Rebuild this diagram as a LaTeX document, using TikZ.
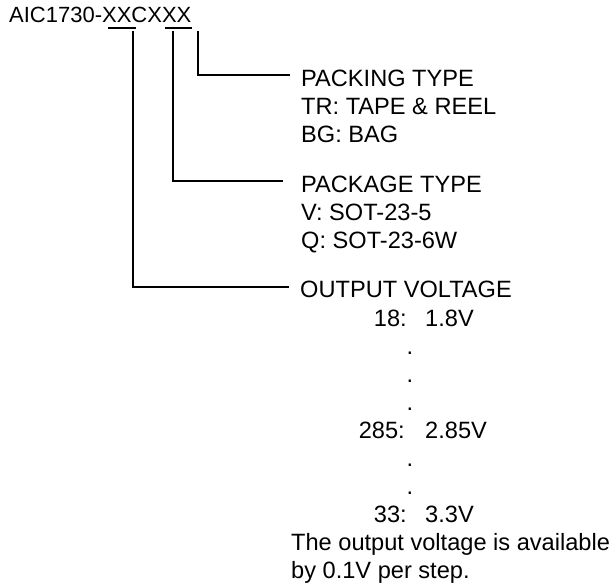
\documentclass[tikz,border=0pt]{standalone}
\usepackage{fontspec}
\setmainfont{Liberation Sans}
\begin{document}
\begin{tikzpicture}[x=1pt,y=-1pt,
  txt/.style={inner sep=0pt, anchor=base west, font=\fontsize{23.6}{28}\selectfont},
  lbl/.style={inner sep=0pt, anchor=base east, font=\fontsize{23.6}{28}\selectfont},
  dotn/.style={inner sep=0pt, anchor=base, font=\fontsize{23.6}{28}\selectfont},
  wire/.style={line width=1.2pt, line cap=rect},
  uline/.style={line width=2pt}]
\useasboundingbox (0,0) rectangle (616,588);
% title
\node[txt, font=\fontsize{22}{26}\selectfont] (title) at (9,23) {AIC1730-XXCXXX};
\coordinate (u1a) at (108,28.5);
\coordinate (u1b) at (136,28.5);
\coordinate (u2a) at (165,28.5);
\coordinate (u2b) at (192,28.5);
\draw[uline] (u1a) -- (u1b);
\draw[uline] (u2a) -- (u2b);
% text blocks
\node[txt] (pk1) at (301,87) {PACKING TYPE};
\node[txt] (pk2) at (301,115) {TR: TAPE \& REEL};
\node[txt] (pk3) at (301,143) {BG: BAG};
\node[txt] (pa1) at (301,193) {PACKAGE TYPE};
\node[txt] (pa2) at (301,221) {V: SOT-23-5};
\node[txt] (pa3) at (301,249) {Q: SOT-23-6W};
\node[txt] (ov1) at (300,298) {OUTPUT VOLTAGE};
\node[lbl] (k18) at (407,326) {18:};
\node[txt] (v18) at (425,326) {1.8V};
\node[dotn] (d1) at (410,354) {.};
\node[dotn] (d2) at (410,382) {.};
\node[dotn] (d3) at (410,410) {.};
\node[lbl] (k285) at (405,438) {285:};
\node[txt] (v285) at (425,438) {2.85V};
\node[dotn] (d4) at (410,466) {.};
\node[dotn] (d5) at (410,494) {.};
\node[lbl] (k33) at (407,522) {33:};
\node[txt] (v33) at (425,522) {3.3V};
\node[txt] (n1) at (291,550) {The output voltage is available};
\node[txt] (n2) at (291,578) {by 0.1V per step.};
% connectors
\coordinate (t3) at (198,32);
\coordinate (t2) at (173,32);
\coordinate (t1) at (133,32);
\coordinate (e3) at (289,75);
\coordinate (e2) at (282,181);
\coordinate (e1) at (288,287);
\draw[wire] (t3) |- (e3);
\draw[wire] (t2) |- (e2);
\draw[wire] (t1) |- (e1);
\end{tikzpicture}
\end{document}
